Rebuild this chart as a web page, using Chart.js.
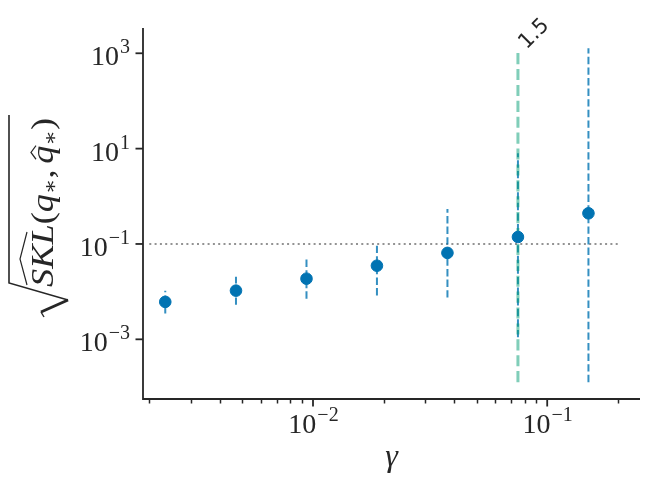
<!DOCTYPE html>
<html>
<head>
<meta charset="utf-8">
<script src="https://cdn.jsdelivr.net/npm/chart.js@4.4.1/dist/chart.umd.min.js"></script>
<style>
  body { margin: 0; background: #fff; }
  #wrap { width: 649px; height: 484px; }
</style>
</head>
<body>
<div id="wrap"><canvas id="sklChart"></canvas></div>
<script>
// values
const gammaValues = [0.00234, 0.00469, 0.00938, 0.01875, 0.0375, 0.075, 0.15];
const sklMean  = [0.0061, 0.0105, 0.0187, 0.035, 0.065, 0.14, 0.44];
const sklLower = [0.0035, 0.0053, 0.0071, 0.0083, 0.0075, 0.0011, 0.000126];
const sklUpper = [0.0105, 0.0205, 0.047, 0.1, 0.54, 8, 1270];

// vertical marker with its label
const markerGamma = 0.075;
const markerSpan = [0.000126, 1150];
const markerText = '1.5';

// dotted reference level
const refLevel = 0.1;
const refSpan = [0.002, 0.2];

// axes
const xRange = [0.00188, 0.249];
const yRange = [5.6e-5, 3390];
const xMajorTicks = [0.01, 0.1];
const xMajorExp = ['−2', '−1'];
const xMinorTicks = [0.002, 0.003, 0.004, 0.005, 0.006, 0.007, 0.008, 0.009,
                     0.02, 0.03, 0.04, 0.05, 0.06, 0.07, 0.08, 0.09, 0.2];
const yMajorTicks = [1e-3, 1e-1, 1e1, 1e3];
const yMajorExp = ['−3', '−1', '1', '3'];

const blue = '#0173b2';
const errBlue = 'rgba(1, 115, 178, 0.8)';
const green = 'rgba(2, 158, 115, 0.5)';
const ink = '#262626';
const serif = '"Liberation Serif", "DejaVu Serif", serif';

// one small line dataset per error bar
const errorBars = gammaValues.map((g, i) => ({
    type: 'line',
    data: [{x: g, y: sklLower[i]}, {x: g, y: sklUpper[i]}],
    borderColor: errBlue,
    borderWidth: 2,
    borderDash: [7.4, 3.2],
    pointRadius: 0,
    fill: false,
    order: 3
}));

// 10^k style label: base plus raised exponent
function drawPow(ctx, exp, x, y, align) {
    ctx.font = '28px ' + serif;
    const wb = ctx.measureText('10').width;
    ctx.font = '20px ' + serif;
    const we = ctx.measureText(exp).width;
    let left = x;
    if (align === 'center') left = x - (wb + we) / 2;
    if (align === 'right') left = x - wb - we;
    ctx.textAlign = 'left';
    ctx.textBaseline = 'alphabetic';
    ctx.font = '28px ' + serif;
    ctx.fillText('10', left, y);
    ctx.font = '20px ' + serif;
    ctx.fillText(exp, left + wb + 1, y - 12);
}

const axisDecor = {
    id: 'axisDecor',
    afterDraw(chart) {
        const {ctx, chartArea: a, scales: {x, y}} = chart;
        ctx.save();
        ctx.strokeStyle = ink;
        ctx.fillStyle = ink;

        // spines
        ctx.lineWidth = 1.8;
        ctx.beginPath();
        ctx.moveTo(a.left, a.top);
        ctx.lineTo(a.left, a.bottom);
        ctx.lineTo(a.right, a.bottom);
        ctx.stroke();

        // x ticks
        ctx.lineWidth = 1.5;
        xMinorTicks.forEach(v => {
            const px = Math.round(x.getPixelForValue(v)) + 0.5;
            ctx.beginPath(); ctx.moveTo(px, a.bottom); ctx.lineTo(px, a.bottom + 4.5); ctx.stroke();
        });
        ctx.lineWidth = 1.8;
        xMajorTicks.forEach((v, i) => {
            const px = x.getPixelForValue(v);
            ctx.beginPath(); ctx.moveTo(px, a.bottom); ctx.lineTo(px, a.bottom + 7.5); ctx.stroke();
            drawPow(ctx, xMajorExp[i], px, a.bottom + 34, 'center');
        });

        // y ticks
        yMajorTicks.forEach((v, i) => {
            const py = y.getPixelForValue(v);
            ctx.beginPath(); ctx.moveTo(a.left, py); ctx.lineTo(a.left - 7.5, py); ctx.stroke();
            drawPow(ctx, yMajorExp[i], a.left - 14, py + 12, 'right');
        });

        // x title
        ctx.font = 'italic 32px ' + serif;
        ctx.textAlign = 'center';
        ctx.textBaseline = 'alphabetic';
        ctx.fillText('γ', (a.left + a.right) / 2, 466);

        // y title: sqrt( SKL-hat(q*, q-hat*) ), rotated
        ctx.save();
        ctx.translate(53, 287);
        ctx.rotate(-Math.PI / 2);
        const parts = [
            {t: 'SKL', f: 'italic 32px ' + serif},
            {t: '(', f: '32px ' + serif},
            {t: 'q', f: 'italic 32px ' + serif, hat: false},
            {t: '∗', f: '20px "DejaVu Serif"', dy: 4},
            {t: ',', f: '32px ' + serif, pad: 5},
            {t: 'q', f: 'italic 32px ' + serif, hat: true},
            {t: '∗', f: '20px "DejaVu Serif"', dy: 4},
            {t: ')', f: '32px ' + serif}
        ];
        let total = 0;
        parts.forEach(p => { ctx.font = p.f; p.w = ctx.measureText(p.t).width + (p.pad || 0); total += p.w; });
        const s = 169 / total;
        ctx.scale(s, 1);
        let u = 0;
        ctx.textAlign = 'left';
        parts.forEach(p => {
            ctx.font = p.f;
            ctx.fillText(p.t, u, p.dy || 0);
            if (p.hat) {
                ctx.lineWidth = 1.2;
                ctx.beginPath();
                ctx.moveTo(u + 4, -17); ctx.lineTo(u + 10, -22); ctx.lineTo(u + 16, -17);
                ctx.stroke();
            }
            u += p.w;
        });
        ctx.restore();

        // radical and wide hat in the same rotated frame, unscaled
        ctx.save();
        ctx.translate(53, 287);
        ctx.rotate(-Math.PI / 2);
        ctx.lineWidth = 1.6;
        ctx.beginPath();
        ctx.moveTo(172, -44);
        ctx.lineTo(4, -44);
        ctx.lineTo(-13, 15);
        ctx.stroke();
        ctx.lineWidth = 3;
        ctx.beginPath();
        ctx.moveTo(-13, 15);
        ctx.lineTo(-25, -12);
        ctx.stroke();
        ctx.lineWidth = 1.4;
        ctx.beginPath();
        ctx.moveTo(-25, -12);
        ctx.lineTo(-30, -9);
        ctx.stroke();
        ctx.lineWidth = 1.2;
        ctx.beginPath();
        ctx.moveTo(2, -26);
        ctx.lineTo(28, -33);
        ctx.lineTo(55, -26);
        ctx.stroke();
        ctx.restore();

        // marker label, rotated 45 degrees
        ctx.save();
        ctx.translate(x.getPixelForValue(markerGamma) + 12, y.getPixelForValue(markerSpan[1]) + 3);
        ctx.rotate(-Math.PI / 4);
        ctx.font = '21px "DejaVu Sans", sans-serif';
        ctx.textAlign = 'left';
        ctx.textBaseline = 'bottom';
        ctx.fillText(markerText, 0, 0);
        ctx.restore();

        ctx.restore();
    }
};

const ctx = document.getElementById('sklChart').getContext('2d');
new Chart(ctx, {
    type: 'scatter',
    data: {
        datasets: [
            {
                type: 'scatter',
                data: gammaValues.map((g, i) => ({x: g, y: sklMean[i]})),
                backgroundColor: blue,
                borderColor: blue,
                pointRadius: 5.8,
                pointHoverRadius: 5.8,
                order: 0
            },
            {
                type: 'line',
                data: [{x: markerGamma, y: markerSpan[0]}, {x: markerGamma, y: markerSpan[1]}],
                borderColor: green,
                borderWidth: 3,
                borderDash: [11.1, 4.8],
                pointRadius: 0,
                fill: false,
                order: 1
            },
            {
                type: 'line',
                data: [{x: refSpan[0], y: refLevel}, {x: refSpan[1], y: refLevel}],
                borderColor: 'rgba(128, 128, 128, 0.85)',
                borderWidth: 2,
                borderDash: [2, 3.3],
                pointRadius: 0,
                fill: false,
                order: 4
            },
            ...errorBars
        ]
    },
    options: {
        responsive: true,
        maintainAspectRatio: false,
        animation: false,
        layout: { padding: { left: 143, top: 28, right: 9, bottom: 85 } },
        scales: {
            x: { type: 'logarithmic', min: xRange[0], max: xRange[1], display: false },
            y: { type: 'logarithmic', min: yRange[0], max: yRange[1], display: false }
        },
        plugins: {
            legend: { display: false },
            tooltip: { enabled: false }
        }
    },
    plugins: [axisDecor]
});
</script>
</body>
</html>
